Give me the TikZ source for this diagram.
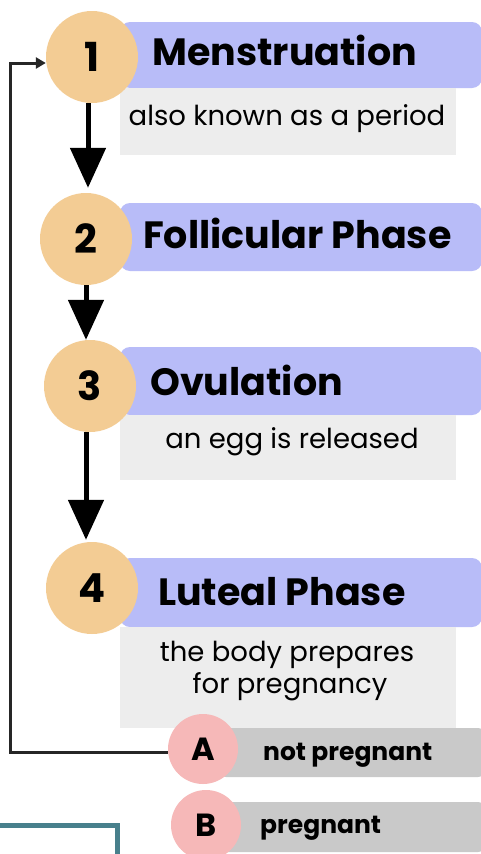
\documentclass[tikz,border=0pt]{standalone}
\usepackage{fontspec}
\setmainfont{Poppins}
\usetikzlibrary{arrows.meta,calc}
\definecolor{peach}{HTML}{F3CC94}
\definecolor{lav}{HTML}{B8BCF8}
\definecolor{lgrey}{HTML}{EDEDED}
\definecolor{mgrey}{HTML}{C9C9C9}
\definecolor{pinkc}{HTML}{F6B8B8}
\definecolor{tealc}{HTML}{48808C}
\tikzset{
  numcirc/.style={circle,fill=peach,minimum size=92pt,inner sep=0pt,font=\fontsize{40}{40}\selectfont\bfseries},
  letcirc/.style={circle,fill=pinkc,minimum size=70pt,inner sep=0pt,font=\fontsize{32}{32}\selectfont\bfseries},
  titlebar/.style={fill=lav,rounded corners=10pt},
  notebox/.style={fill=lgrey},
  optbar/.style={fill=mgrey,rounded corners=6pt},
  titletxt/.style={anchor=base west,inner sep=0pt,font=\fontsize{38}{38}\selectfont\bfseries},
  notetxt/.style={anchor=base,inner sep=0pt,font=\fontsize{27.5}{27.5}\selectfont},
  opttxt/.style={anchor=base west,inner sep=0pt,font=\fontsize{25}{25}\selectfont\bfseries},
  bigarrow/.style={line width=5pt,-{Triangle[width=35pt,length=40pt]}},
  loopline/.style={line width=3pt,draw=black!85,-{Triangle[width=11pt,length=10pt]}}
}
\begin{document}
\begin{tikzpicture}[x=1pt,y=-1pt]
\useasboundingbox[fill=white] (0,0) rectangle (480,854);
% bars and boxes
\fill[titlebar] (120,22) rectangle (482,88);
\fill[notebox] (120,88) rectangle (456,155);
\fill[titlebar] (120,203) rectangle (482,271);
\fill[titlebar] (120,347) rectangle (482,415);
\fill[notebox] (120,415) rectangle (456,480);
\fill[titlebar] (120,558) rectangle (482,627);
\fill[notebox] (120,627) rectangle (456,728);
\fill[optbar] (220,728) rectangle (484,777);
\fill[optbar] (220,802) rectangle (484,852);
% teal frame fragment
\draw[tealc,line width=5pt] (-3,825) -- (117,825) -- (117,858);
% circles
\node[numcirc] (c1) at (92,57) {1};
\node[numcirc] (c2) at (86,239) {2};
\node[numcirc] (c3) at (90,386) {3};
\node[numcirc] (c4) at (92,588) {4};
\node[letcirc] (cA) at (203,749) {A};
\node[letcirc] (cB) at (206,825) {B};
% texts
\node[titletxt] (t1) at (152,65) {Menstruation};
\node[notetxt] (n1) at (287,125) {also known as a period};
\node[titletxt] (t2) at (143,248) {Follicular Phase};
\node[titletxt] (t3) at (150,395) {Ovulation};
\node[notetxt] (n3) at (292,448) {an egg is released};
\node[titletxt] (t4) at (158,605) {Luteal Phase};
\node[notetxt] (n4a) at (287,661) {the body prepares};
\node[notetxt] (n4b) at (290,693) {for pregnancy};
\node[opttxt] (oA) at (263,760) {not pregnant};
\node[opttxt] (oB) at (260,833) {pregnant};
% arrows
\draw[bigarrow] ([xshift=-4pt]c1.south) -- ([xshift=2pt,yshift=5pt]c2.north);
\draw[bigarrow] (c2.south) -- ([xshift=-4pt]c3.north);
\draw[bigarrow] ([xshift=-4pt]c3.south) -- ([xshift=-6pt,yshift=2pt]c4.north);
\coordinate (lb) at (10,752);
\coordinate (lt) at (10,63);
\draw[loopline] ([yshift=-3pt]cA.west) -- (lb) -- (lt) -- ([yshift=-6pt]c1.west);
\end{tikzpicture}
\end{document}
